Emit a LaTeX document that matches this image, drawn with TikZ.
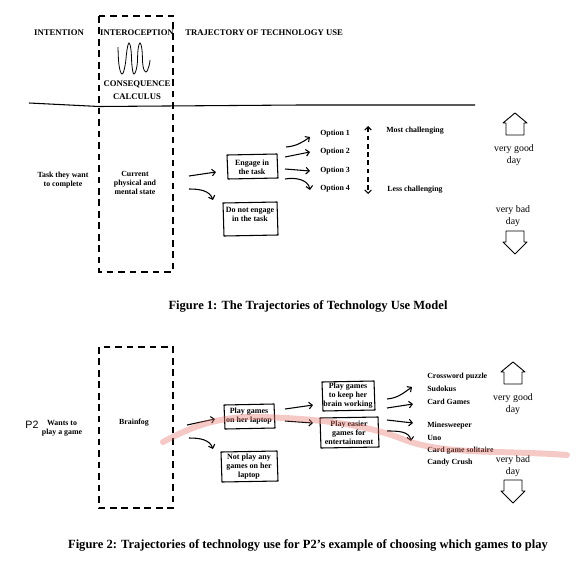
\documentclass[tikz,border=0pt]{standalone}
\usepackage{fontspec}
\setmainfont{Liberation Serif}
\newfontfamily\handfont{Liberation Sans}
\usetikzlibrary{arrows.meta, calc}
\definecolor{marker}{RGB}{232,120,110}

% hand drawn frame round a text node: node, half width, up, down (px)
\newcommand{\sketchbox}[4]{%
  \draw[sketch] ($(#1)+(-#2,-#3)$) -- ($(#1)+(#2,-#3-1)$)
    -- ($(#1)+(#2+1,#4)$) -- ($(#1)+(-#2+1,#4+1)$) -- cycle;}

\begin{document}
\begin{tikzpicture}[
  x=0.75pt, y=-0.75pt,
  head/.style={font=\fontsize{6.5}{9.8}\selectfont\bfseries, align=center, inner sep=0pt},
  lbl/.style={font=\fontsize{5.9}{6.8}\selectfont\bfseries, align=center, inner sep=0pt},
  item/.style={lbl, anchor=west},
  boxtext/.style={font=\fontsize{6}{6.8}\selectfont\bfseries, align=center, inner sep=0pt},
  day/.style={font=\fontsize{7.4}{9}\selectfont, align=center, inner sep=0pt},
  caption/.style={font=\fontsize{9.4}{11}\selectfont\bfseries, inner sep=0pt},
  sketch/.style={line width=0.8pt, line join=round},
  dashbox/.style={line width=0.9pt, dash pattern=on 5pt off 3.6pt},
  arr/.style={line width=0.8pt, -{Straight Barb[length=2.5pt, width=5pt]}},
  dasharr/.style={line width=0.8pt, dash pattern=on 3.6pt off 2.6pt,
    {Straight Barb[length=2.5pt, width=5pt]}-{Straight Barb[length=2.5pt, width=5pt]}},
  marked/.style={line width=4.5pt, draw=marker, opacity=0.4, line cap=round},
  uparr/.pic={\draw[line width=0.7pt, line join=round] (-9,11) -- (-9,-1) -- (-12,-1)
    -- (0,-11) -- (12,-1) -- (9,-1) -- (9,11) -- cycle;},
  downarr/.pic={\draw[line width=0.7pt, line join=round] (-9,-11) -- (-9,0) -- (-12,0)
    -- (0,12) -- (12,0) -- (9,0) -- (9,-11) -- cycle;}
]
\fill[white] (0,0) rectangle (581,564);

% ---------- Figure 1 ----------
\draw[dashbox] (99,16) rectangle (173,272);
\draw[line width=0.8pt] (29,103) -- (99,106.5) -- (300,105) -- (475,105);

\node[head] (intent) at (59,33) {INTENTION};
\node[head] (intero) at (137,33) {INTEROCEPTION};
\node[head, anchor=west] (traj) at (185,33) {TRAJECTORY OF TECHNOLOGY USE};
\node[head] (conseq) at (137,90.5) {CONSEQUENCE\\CALCULUS};
\draw[line width=0.6pt] plot[smooth, tension=0.7] coordinates {(118,47) (119,65) (122,74)
  (125,66) (127,50) (129,43) (131,50) (132,66) (134,74) (137,66) (138,50) (140,43)
  (142,50) (143,66) (146,72) (149,66) (150,60)};

\node[lbl] (task) at (63,180) {Task they want\\to complete};
\node[lbl] (state) at (135,183) {Current\\physical and\\mental state};

\node[boxtext] (engage) at (252,167) {Engage in\\the task};
\node[boxtext] (notengage) at (250,214) {Do not engage\\in the task};
\sketchbox{engage}{25}{12}{11}
\sketchbox{notengage}{27}{11}{21}

\node[item] (opt1) at (320,134) {Option 1};
\node[item] (opt2) at (320,152) {Option 2};
\node[item] (opt3) at (320,171) {Option 3};
\node[item] (opt4) at (320,189) {Option 4};
\node[item] (most) at (386,131) {Most challenging};
\node[item] (less) at (387,190) {Less challenging};

\node[day] (good1) at (514,155) {very good\\day};
\node[day] (bad1) at (513,216) {very bad\\day};
\pic at (515,124) {uparr};
\pic at (515,242) {downarr};

\draw[arr] ($(state)+(54,-7)$) -- ($(engage)+(-36,5)$);
\draw[arr] ($(state)+(54,6)$) to[out=0, in=110] ($(notengage)+(-37,-14)$);
\draw[arr] ($(engage)+(34,-20)$) to[out=5, in=215] ($(opt1.west)+(-10,3)$);
\draw[arr] ($(engage)+(33,-10)$) -- ($(opt2.west)+(-10,0)$);
\draw[arr] ($(engage)+(33,2)$) -- ($(opt3.west)+(-10,0)$);
\draw[arr] ($(engage)+(33,12)$) to[out=10, in=100] ($(opt4.west)+(-10,1)$);
\draw[dasharr] ($(most.west)+(-18,-5)$) -- ($(less.west)+(-19,4)$);

\node[caption] (cap1) at (308,306) {Figure 1: The Trajectories of Technology Use Model};

% ---------- Figure 2 ----------
\draw[dashbox] (99,347) rectangle (173,508);

\node[font=\handfont\fontsize{8}{9}\selectfont, inner sep=0pt] (p2) at (32,425) {P2};
\node[lbl] (wants) at (62,428) {Wants to\\play a game};
\node[lbl] (fog) at (134,423) {Brainfog};

\node[boxtext] (laptop) at (249,416) {Play games\\on her laptop};
\node[boxtext] (notplay) at (249,467) {Not play any\\games on her\\laptop};
\node[boxtext] (keep) at (348,396) {Play games\\to keep her\\brain working};
\node[boxtext] (easier) at (349,433) {Play easier\\games for\\entertainment};
\sketchbox{laptop}{25}{11}{12}
\sketchbox{notplay}{28}{15}{14}
\sketchbox{keep}{26}{14}{14}
\sketchbox{easier}{29}{15}{14}

\node[item] (cross) at (427,377) {Crossword puzzle};
\node[item] (sudoku) at (427,389) {Sudokus};
\node[item] (cards) at (427,402) {Card Games};
\node[item] (mine) at (427,426) {Minesweeper};
\node[item] (uno) at (427,438) {Uno};
\node[item] (solit) at (427,451) {Card game solitaire};
\node[item] (candy) at (427,463) {Candy Crush};

\node[day] (good2) at (513,404) {very good\\day};
\node[day] (bad2) at (513,466) {very bad\\day};
\pic at (513,373) {uparr};
\pic at (513,491) {downarr};

\draw[arr] ($(fog)+(53,2)$) -- ($(laptop)+(-34,3)$);
\draw[arr] ($(fog)+(55,15)$) to[out=0, in=110] ($(notplay)+(-36,-18)$);
\draw[arr] ($(laptop)+(36,-7)$) -- ($(keep)+(-35,9)$);
\draw[arr] ($(laptop)+(36,5)$) -- ($(easier)+(-36,-10)$);
\draw[arr] ($(keep)+(39,3)$) to[out=5, in=215] ($(sudoku.west)+(-15,-2)$);
\draw[arr] ($(keep)+(39,12)$) -- ($(cards.west)+(-14,2)$);
\draw[arr] ($(easier)+(38,-13)$) -- ($(mine.west)+(-14,-3)$);
\draw[arr] ($(easier)+(38,-2)$) to[out=0, in=100] ($(uno.west)+(-16,3)$);

% highlighted trajectory
\draw[marked] (163,442) .. controls (195,425) and (220,416) .. (262,417)
  .. controls (320,419) and (365,424) .. (405,440)
  .. controls (445,455) and (500,450) .. (567,455);

\node[caption] (cap2) at (308,545) {Figure 2: Trajectories of technology use for P2’s example of choosing which games to play};
\end{tikzpicture}
\end{document}
